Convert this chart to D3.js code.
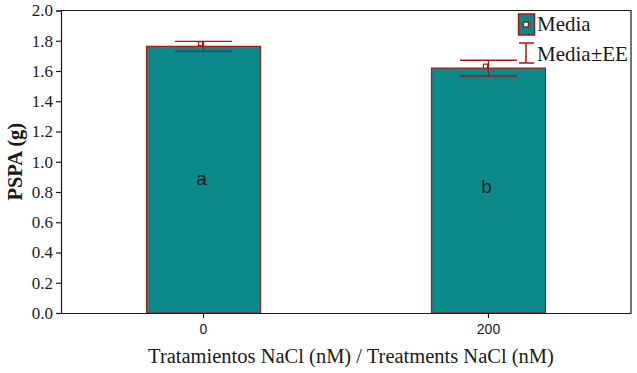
<!DOCTYPE html>
<html>
<head>
<meta charset="utf-8">
<script src="https://cdn.jsdelivr.net/npm/d3@7"></script>
<style>
  body { margin: 0; background: #fff; }
  svg { display: block; }
</style>
</head>
<body>
<div id="chart"></div>
<script>
// PSPA bar chart with mean marker and standard error

var treatments = ["0", "200"];
var barValues = [1.763, 1.619];   // bar heights
var meanValues = [1.781, 1.632];  // "Media" marker
var seValues = [0.033, 0.052];    // Media +/- EE
var letters = ["a", "b"];
var letterY = [0.846, 0.793];     // where the letters sit (data units)
var yTicks = [0, 0.2, 0.4, 0.6, 0.8, 1.0, 1.2, 1.4, 1.6, 1.8, 2.0];

var W = 637, H = 373;
var margin = {top: 10.5, right: 6, bottom: 60, left: 61};
var teal = "#0b898a", red = "#a01818", ink = "#1a1a1a";
var serif = "'Liberation Serif', 'Times New Roman', serif";
var sans = "'Liberation Sans', Arial, sans-serif";

var svg = d3.select("#chart").append("svg")
    .attr("width", W).attr("height", H);

var x = d3.scaleBand()
    .domain(treatments)
    .range([margin.left, W - margin.right])
    .paddingInner(0.6)
    .paddingOuter(0.3);

var y = d3.scaleLinear()
    .domain([0, 2])
    .range([H - margin.bottom, margin.top]);

var g = svg.append("g");

// frame top / right
g.append("path")
  .attr("d", "M" + margin.left + "," + margin.top + "H" + (W - margin.right) + "V" + y(0))
  .attr("fill", "none").attr("stroke", ink).attr("stroke-width", 1.2);

// bars
g.selectAll(".bar")
  .data(barValues)
  .enter().append("rect")
  .attr("class", "bar")
  .attr("x", function(d, i){ return x(treatments[i]); })
  .attr("y", function(d){ return y(d); })
  .attr("width", x.bandwidth())
  .attr("height", function(d){ return y(0) - y(d); })
  .style("fill", teal)
  .style("stroke", red)
  .style("stroke-width", 1.2);

// error bars
var capW = x.bandwidth() / 2;
treatments.forEach(function(t, i){
  var cx = x(t) + x.bandwidth() / 2;
  var hi = y(barValues[i] + seValues[i]), lo = y(barValues[i] - seValues[i]);
  g.append("line").attr("x1", cx).attr("x2", cx).attr("y1", hi).attr("y2", lo)
    .style("stroke", red).style("stroke-width", 1.3);
  [hi, lo].forEach(function(yy){
    g.append("line").attr("x1", cx - capW / 2).attr("x2", cx + capW / 2)
      .attr("y1", yy).attr("y2", yy)
      .style("stroke", red).style("stroke-width", 1.3);
  });
  // mean marker
  g.append("rect")
    .attr("x", cx - 5).attr("y", y(meanValues[i]) - 2)
    .attr("width", 4).attr("height", 4)
    .style("fill", "#fff").style("stroke", red).style("stroke-width", 1.2);
  // letters
  g.append("text")
    .attr("x", cx - 2).attr("y", y(letterY[i]))
    .attr("text-anchor", "middle")
    .style("font-family", sans)
    .style("font-size", "19px")
    .style("fill", ink)
    .text(letters[i]);
});

// axes
var yAxis = d3.axisLeft(y).tickValues(yTicks).tickFormat(d3.format(".1f")).tickSize(5).tickPadding(3);
var ya = g.append("g").attr("transform", "translate(" + margin.left + ",0)").call(yAxis);
ya.selectAll("text")
  .style("font-family", serif).style("font-size", "17px").style("fill", ink);

var xAxis = d3.axisBottom(x).tickSize(5).tickPadding(6).tickSizeOuter(0);
var xa = g.append("g").attr("transform", "translate(0," + y(0) + ")").call(xAxis);
xa.selectAll("text")
  .style("font-family", sans).style("font-size", "14px").style("fill", ink);

[ya, xa].forEach(function(a){
  a.selectAll("path, line").style("stroke", ink).style("stroke-width", 1.2);
});

// titles
g.append("text")
  .attr("transform", "translate(22," + (margin.top + (y(0) - margin.top) / 2) + ") rotate(-90)")
  .attr("text-anchor", "middle")
  .style("font-family", serif)
  .style("font-size", "20.5px").style("font-weight", "bold").style("fill", ink)
  .text("PSPA (g)");

g.append("text")
  .attr("x", 351).attr("y", 363)
  .attr("text-anchor", "middle")
  .style("font-family", serif)
  .style("font-size", "20.5px").style("fill", ink)
  .text("Tratamientos NaCl (nM) / Treatments NaCl (nM)");

// legend
var lg = g.append("g").attr("transform", "translate(518,14)");
lg.append("rect").attr("x", 0.5).attr("y", 0).attr("width", 16).attr("height", 21)
  .style("fill", teal).style("stroke", red).style("stroke-width", 1.5);
lg.append("rect").attr("x", 5.5).attr("y", 8).attr("width", 5).attr("height", 5)
  .style("fill", "#fff").style("stroke", red).style("stroke-width", 1.5);
lg.append("text").attr("x", 19).attr("y", 17)
  .style("font-family", serif)
  .style("font-size", "21px").style("fill", ink).text("Media");
lg.append("line").attr("x1", 8).attr("x2", 8).attr("y1", 29).attr("y2", 49)
  .style("stroke", red).style("stroke-width", 1.5);
[29, 49].forEach(function(yy){
  lg.append("line").attr("x1", 1).attr("x2", 16).attr("y1", yy).attr("y2", yy)
    .style("stroke", red).style("stroke-width", 1.5);
});
lg.append("text").attr("x", 19).attr("y", 47)
  .style("font-family", serif)
  .style("font-size", "21px").style("fill", ink).text("Media\u00b1EE");
</script>
</body>
</html>
